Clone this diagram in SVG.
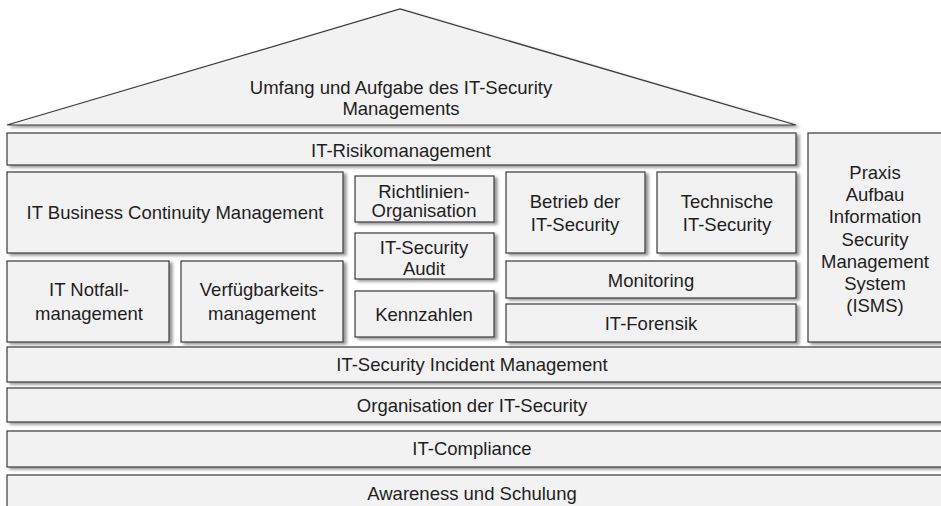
<svg xmlns="http://www.w3.org/2000/svg" width="941" height="506" viewBox="0 0 941 506">
<style>
.b{fill:#f2f2f2;stroke:#3a3a3a;stroke-width:1.2;filter:url(#sh)}
.t{font-family:"Liberation Sans",Arial,sans-serif;font-size:18.5px;fill:#1e1e1e;text-anchor:middle}
</style>
<defs>
<filter id="sh" x="-5%" y="-10%" width="115%" height="130%">
<feDropShadow dx="3" dy="2" stdDeviation="1.5" flood-color="#7a7a7a" flood-opacity="0.8"/>
</filter>
</defs>
<rect width="941" height="506" fill="#ffffff"/>
<g id="roof">
<polygon class="b" points="7,125 400,9 796,125"/>
<text class="t" x="401" y="94">Umfang und Aufgabe des IT-Security</text>
<text class="t" x="401" y="115">Managements</text>
</g>
<g id="risiko">
<rect class="b" x="7" y="133" width="789" height="32"/>
<text class="t" x="401" y="157">IT-Risikomanagement</text>
</g>
<g id="isms">
<rect class="b" x="808" y="133" width="140" height="209"/>
<text class="t" x="875" y="179">Praxis</text>
<text class="t" x="875" y="201">Aufbau</text>
<text class="t" x="875" y="223">Information</text>
<text class="t" x="875" y="246">Security</text>
<text class="t" x="875" y="268">Management</text>
<text class="t" x="875" y="290">System</text>
<text class="t" x="875" y="312">(ISMS)</text>
</g>
<g id="bcm">
<rect class="b" x="7" y="172" width="336" height="81"/>
<text class="t" x="175" y="219">IT Business Continuity Management</text>
</g>
<g id="notfall">
<rect class="b" x="7" y="261" width="162" height="81"/>
<text class="t" x="89" y="296">IT Notfall-</text>
<text class="t" x="89" y="320">management</text>
</g>
<g id="verfuegbarkeit">
<rect class="b" x="181" y="261" width="162" height="81"/>
<text class="t" x="262" y="296">Verfügbarkeits-</text>
<text class="t" x="262" y="320">management</text>
</g>
<g id="richtlinien">
<rect class="b" x="355" y="176" width="139" height="46"/>
<text class="t" x="424" y="198">Richtlinien-</text>
<text class="t" x="424" y="217">Organisation</text>
</g>
<g id="audit">
<rect class="b" x="355" y="233" width="139" height="46"/>
<text class="t" x="424" y="254">IT-Security</text>
<text class="t" x="424" y="275">Audit</text>
</g>
<g id="kennzahlen">
<rect class="b" x="355" y="291" width="139" height="46"/>
<text class="t" x="424" y="321">Kennzahlen</text>
</g>
<g id="betrieb">
<rect class="b" x="506" y="172" width="139" height="81"/>
<text class="t" x="575" y="208">Betrieb der</text>
<text class="t" x="575" y="231">IT-Security</text>
</g>
<g id="technische">
<rect class="b" x="657" y="172" width="139" height="81"/>
<text class="t" x="727" y="208">Technische</text>
<text class="t" x="727" y="231">IT-Security</text>
</g>
<g id="monitoring">
<rect class="b" x="506" y="261" width="290" height="37"/>
<text class="t" x="651" y="287">Monitoring</text>
</g>
<g id="forensik">
<rect class="b" x="506" y="304" width="290" height="38"/>
<text class="t" x="651" y="330">IT-Forensik</text>
</g>
<g id="incident">
<rect class="b" x="7" y="347" width="940" height="35"/>
<text class="t" x="472" y="371">IT-Security Incident Management</text>
</g>
<g id="organisation">
<rect class="b" x="7" y="388" width="940" height="34"/>
<text class="t" x="472" y="412">Organisation der IT-Security</text>
</g>
<g id="compliance">
<rect class="b" x="7" y="431" width="940" height="36"/>
<text class="t" x="472" y="455">IT-Compliance</text>
</g>
<g id="awareness">
<rect class="b" x="7" y="475" width="940" height="40"/>
<text class="t" x="472" y="500">Awareness und Schulung</text>
</g>
<g id="connectors"></g>
</svg>
